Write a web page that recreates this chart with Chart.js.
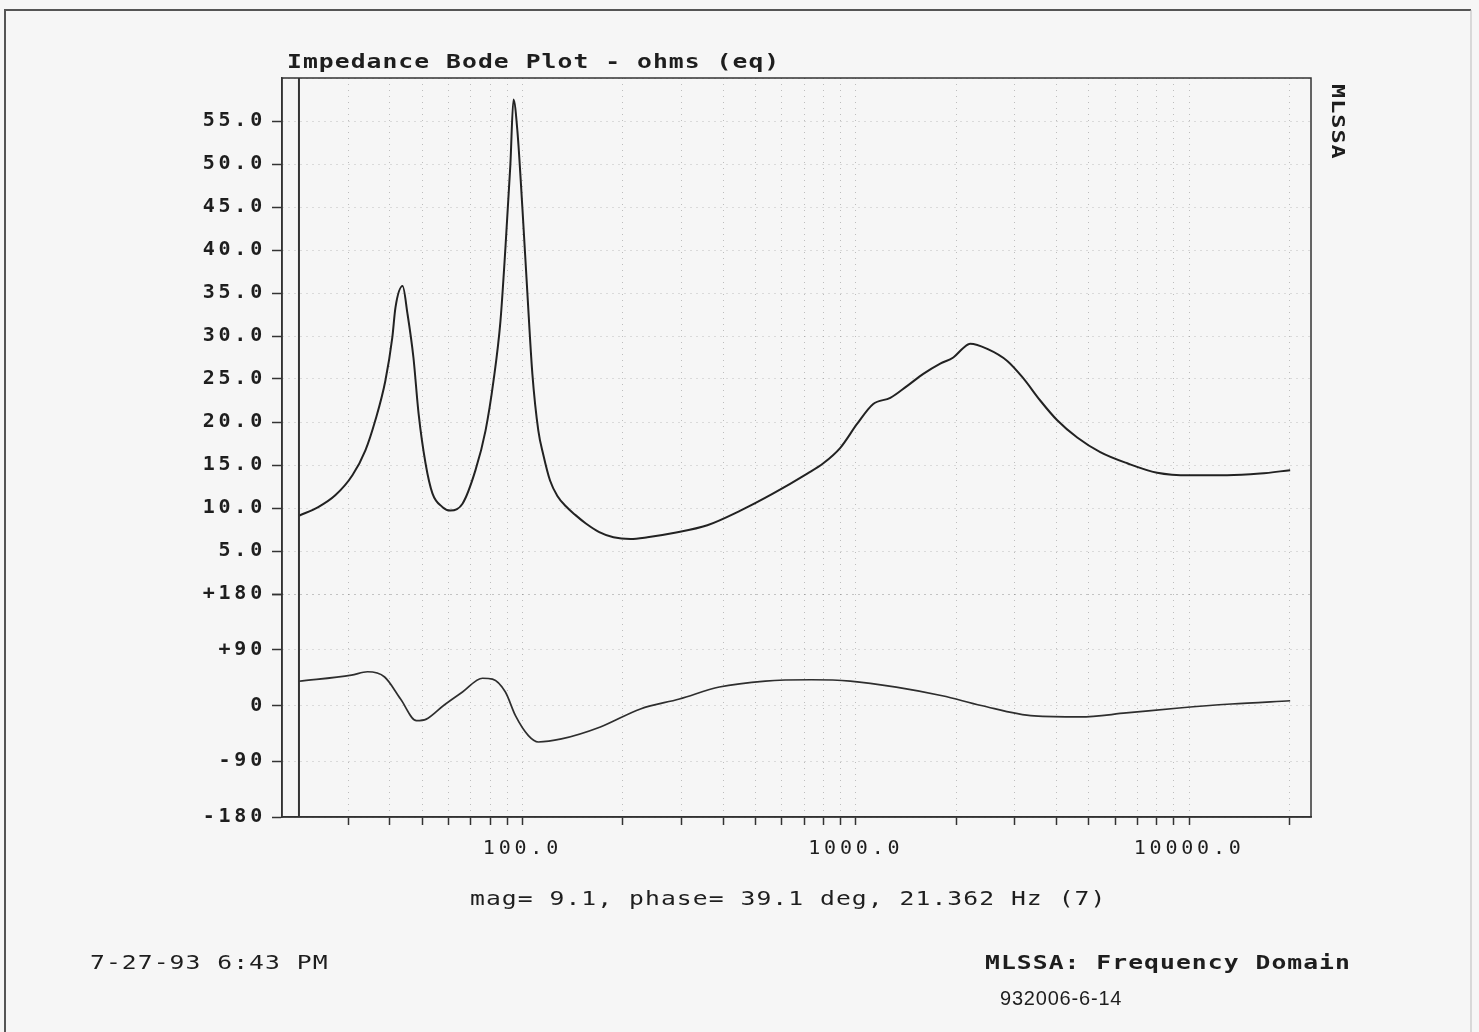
<!DOCTYPE html>
<html>
<head>
<meta charset="utf-8">
<title>Impedance Bode Plot</title>
<script src="https://cdn.jsdelivr.net/npm/chart.js@4.4.1/dist/chart.umd.min.js"></script>
<style>
  html, body { margin: 0; padding: 0; background: #f6f6f6; }
  canvas { display: block; }
</style>
</head>
<body>
<canvas id="bode" width="1479" height="1032"></canvas>
<script>
// impedance magnitude, ohms
const magFreq = [21.362, 24.4, 27.5, 30.9, 33.8, 36.2, 38.8, 40.7, 41.6, 43.7, 45.2, 47.1, 48.8, 51.2, 53.7, 57.6, 60.8, 66.1, 72.3, 77.5, 81.9, 85.9, 88.9, 92.0, 94.0, 96.6, 100, 103.5, 107.1, 111.6, 115.5, 121, 127.3, 135, 144, 155, 170, 187.5, 210.8, 237.1, 283.7, 358.6, 450.5, 565.7, 715.3, 799, 898.5, 1010, 1128, 1269, 1427, 1594, 1792, 1961, 2101, 2204, 2480, 2847, 3178, 3574, 4020, 4615, 5410, 6518, 8017, 10070, 13000, 16330, 20090]
const magOhms = [9.1, 10.1, 11.5, 13.8, 16.7, 20.2, 24.8, 29.8, 33.3, 35.8, 32.6, 27.5, 21.0, 15.2, 11.7, 10.1, 9.7, 10.5, 14.4, 19.0, 24.8, 31.7, 40.2, 49.9, 57.5, 53.8, 44.8, 34.9, 25.6, 19.0, 16.2, 13.2, 11.4, 10.2, 9.2, 8.2, 7.2, 6.6, 6.4, 6.6, 7.1, 8.0, 9.7, 11.7, 14.0, 15.2, 17.0, 19.8, 22.1, 22.8, 24.2, 25.6, 26.8, 27.5, 28.6, 29.1, 28.5, 27.1, 25.1, 22.5, 20.2, 18.2, 16.5, 15.2, 14.1, 13.8, 13.8, 14.0, 14.4]

// phase, degrees
const phaseFreq = [21.362, 30.7, 34.3, 38.6, 43.1, 48.1, 51.5, 58.0, 66.1, 75.9, 81.3, 88.9, 95.3, 104.2, 111.6, 130.9, 171.3, 225.9, 295.7, 389.7, 535.4, 735.5, 962.7, 1322, 1817, 2378, 3429, 4712, 6473, 9333, 13360, 20090]
const phaseDeg = [39.1, 49, 54.5, 46, 10.5, -24.5, -22, 0, 21.7, 44, 42.7, 21.7, -16.5, -48.7, -58.9, -54, -34.7, -5.6, 10.5, 29.8, 39.5, 41.6, 39.5, 29.8, 15.8, 0, -16.9, -18.5, -12, -4, 2.4, 7.7]

const cursorHz = 21.362
const decadeLabels = [100, 1000, 10000]
const freqTicks = [30, 40, 50, 60, 70, 80, 90, 100, 200, 300, 400, 500, 600, 700, 800, 900, 1000, 2000, 3000, 4000, 5000, 6000, 7000, 8000, 9000, 10000, 20000]
const magTicks = [0, 5, 10, 15, 20, 25, 30, 35, 40, 45, 50, 55, 60]
const phaseTicks = [-180, -90, 0, 90, 180]

const ink = '#1e1e1e'
const mono = '"DejaVu Sans Mono", "Liberation Mono", monospace'
const gridColor = 'rgba(110,110,110,0.42)'
const frameColor = '#333'

const toPoints = (xs, ys) => xs.map((x, i) => ({ x: x, y: ys[i] }))

// old plotter font is wide, so stretch the mono glyphs sideways
function wideText(ctx, str, x, y, font, rotate) {
    ctx.save()
    ctx.translate(x, y)
    if (rotate) ctx.rotate(Math.PI / 2)
    ctx.scale(1.3, 1)
    ctx.font = font
    ctx.letterSpacing = '0.8px'
    ctx.fillText(str, 0, 0)
    ctx.restore()
}

const pageDecor = {
    id: 'pageDecor',
    beforeDraw(chart) {
        chart.ctx.letterSpacing = '3.8px'
    },
    afterDraw(chart) {
        const ctx = chart.ctx
        const a = chart.chartArea
        ctx.save()

        // plot frame
        ctx.strokeStyle = frameColor
        ctx.lineWidth = 1.5
        ctx.strokeRect(a.left, a.top, a.right - a.left, a.bottom - a.top)

        // cursor
        const cx = chart.scales.x.getPixelForValue(cursorHz)
        ctx.lineWidth = 2
        ctx.beginPath()
        ctx.moveTo(cx, a.top)
        ctx.lineTo(cx, a.bottom)
        ctx.stroke()

        // page border
        ctx.strokeStyle = '#555'
        ctx.lineWidth = 2
        ctx.beginPath()
        ctx.moveTo(5, 1032)
        ctx.lineTo(5, 10)
        ctx.lineTo(1471, 10)
        ctx.stroke()
        ctx.strokeStyle = '#bbb'
        ctx.lineWidth = 1
        ctx.beginPath()
        ctx.moveTo(1471, 10)
        ctx.lineTo(1471, 1032)
        ctx.stroke()

        // texts
        ctx.fillStyle = ink
        ctx.textBaseline = 'alphabetic'
        ctx.textAlign = 'left'
        const bold = 'bold 19px ' + mono
        const plain = '19px ' + mono
        wideText(ctx, 'Impedance Bode Plot - ohms (eq)', 287, 68, bold)
        wideText(ctx, 'MLSSA: Frequency Domain', 985, 969, bold)
        wideText(ctx, 'mag= 9.1, phase= 39.1 deg, 21.362 Hz (7)', 470, 905, plain)
        wideText(ctx, '7-27-93 6:43 PM', 90, 969, plain)
        wideText(ctx, 'MLSSA', 1332, 84, 'bold 18px ' + mono, true)

        ctx.letterSpacing = '0.8px'
        ctx.font = '20px "Liberation Sans", Arial, sans-serif'
        ctx.fillText('932006-6-14', 1000, 1005)

        ctx.restore()
    }
}

const axisBorder = { display: true, color: frameColor, width: 1.5, dash: [1, 5] }
const tickFont = { family: mono, size: 20, weight: 'bold' }

new Chart(document.getElementById('bode'), {
    type: 'line',
    data: {
        datasets: [
            {
                label: 'mag',
                data: toPoints(magFreq, magOhms),
                yAxisID: 'mag',
                borderColor: '#222',
                borderWidth: 2,
                pointRadius: 0,
                cubicInterpolationMode: 'monotone'
            },
            {
                label: 'phase',
                data: toPoints(phaseFreq, phaseDeg),
                yAxisID: 'phase',
                borderColor: '#2e2e2e',
                borderWidth: 1.7,
                pointRadius: 0,
                cubicInterpolationMode: 'monotone'
            }
        ]
    },
    options: {
        responsive: false,
        animation: false,
        events: [],
        layout: { padding: { left: 182, right: 168, top: 78, bottom: 165 } },
        plugins: { legend: { display: false }, tooltip: { enabled: false } },
        scales: {
            x: {
                type: 'logarithmic',
                min: 19,
                max: 23200,
                afterBuildTicks: s => { s.ticks = freqTicks.map(v => ({ value: v, major: decadeLabels.includes(v) })) },
                afterFit: s => { s.height = 50 },
                border: axisBorder,
                grid: { color: gridColor, lineWidth: 1, tickLength: 8, tickColor: frameColor, tickWidth: 1.5 },
                ticks: {
                    autoSkip: false,
                    maxRotation: 0,
                    padding: 12,
                    color: ink,
                    font: { family: mono, size: 20 },
                    callback: v => decadeLabels.includes(v) ? v.toFixed(1) : ''
                }
            },
            mag: {
                type: 'linear',
                position: 'left',
                stack: 'bode',
                stackWeight: 516,
                weight: 1,
                min: 0,
                max: 60,
                afterBuildTicks: s => { s.ticks = magTicks.map(v => ({ value: v })) },
                afterFit: s => { s.width = 100 },
                border: axisBorder,
                grid: {
                    color: gridColor,
                    tickLength: 10,
                    tickWidth: 1.5,
                    tickColor: c => c.tick && c.tick.value === 60 ? 'rgba(0,0,0,0)' : frameColor
                },
                ticks: {
                    autoSkip: false,
                    padding: 6,
                    color: ink,
                    font: tickFont,
                    callback: v => (v > 0 && v < 60) ? v.toFixed(1) : ''
                }
            },
            phase: {
                type: 'linear',
                position: 'left',
                stack: 'bode',
                stackWeight: 223,
                weight: 0,
                min: -180,
                max: 180,
                afterBuildTicks: s => { s.ticks = phaseTicks.map(v => ({ value: v })) },
                afterFit: s => { s.width = 100 },
                border: axisBorder,
                grid: { color: gridColor, tickLength: 10, tickWidth: 1.5, tickColor: frameColor },
                ticks: {
                    autoSkip: false,
                    padding: 6,
                    color: ink,
                    font: tickFont,
                    callback: v => v > 0 ? '+' + v : String(v)
                }
            }
        }
    },
    plugins: [pageDecor]
})
</script>
</body>
</html>
